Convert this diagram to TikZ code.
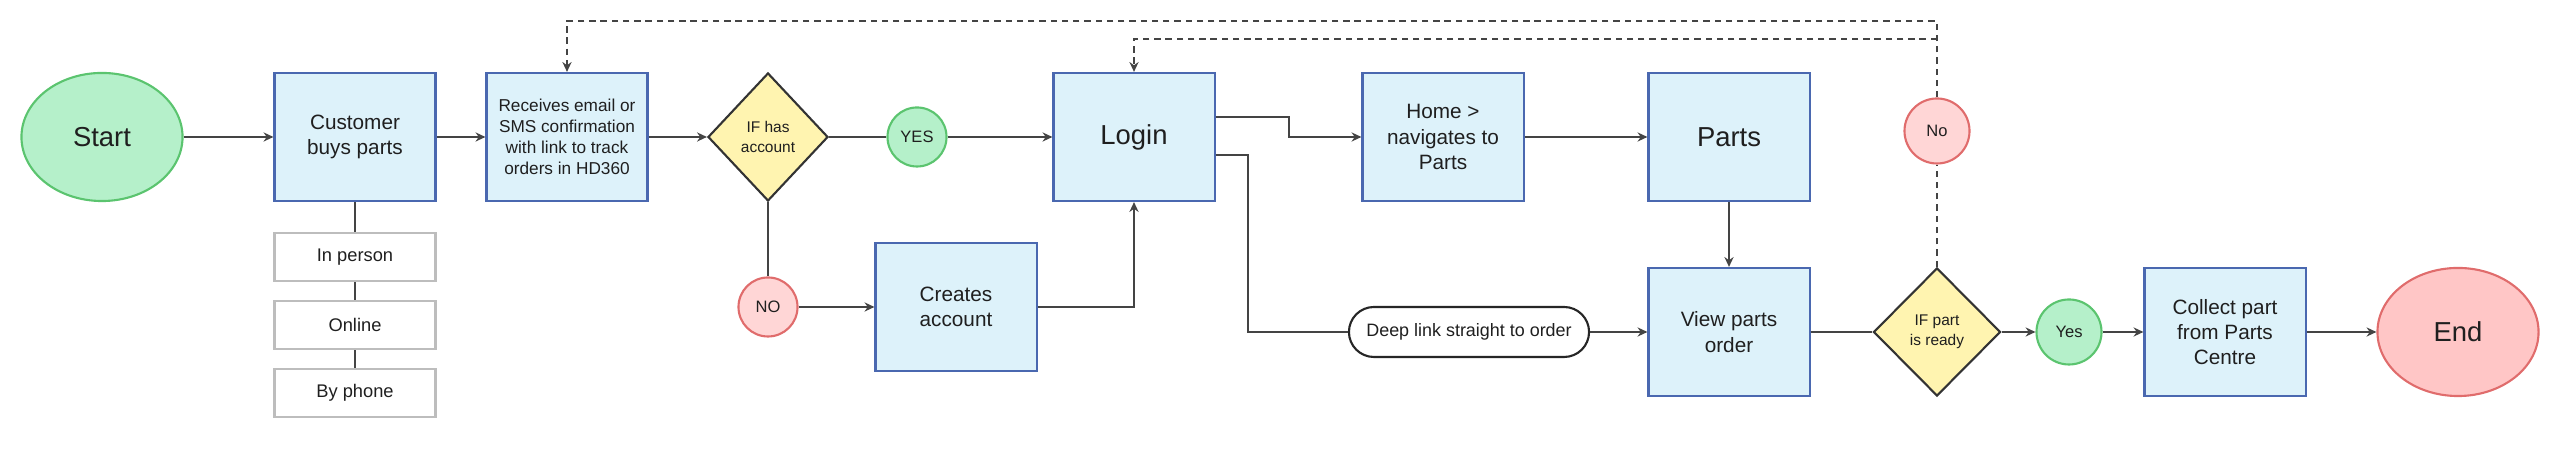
\documentclass[tikz,border=0pt]{standalone}
\usepackage{fontspec}
\setmainfont{Liberation Sans}
\usetikzlibrary{arrows.meta,shapes.geometric}
\definecolor{boxfill}{HTML}{DDF2FA}
\definecolor{boxline}{HTML}{4A68B0}
\definecolor{condfill}{HTML}{FFF4B0}
\definecolor{okfill}{HTML}{B5F0CA}
\definecolor{okline}{HTML}{5BC46F}
\definecolor{badfill}{HTML}{FFD6D6}
\definecolor{badline}{HTML}{E06C6C}
\definecolor{endfill}{HTML}{FFC6C6}
\definecolor{optline}{HTML}{BDBDBD}
\definecolor{wire}{HTML}{444444}
\tikzset{
	proc/.style = {rectangle, draw = boxline, fill = boxfill, minimum width = 1.61cm, minimum height = 1.28cm, inner sep = 0pt, align = center, font = \fontsize{5.9}{7.2}\selectfont},
	opt/.style = {rectangle, draw = optline, fill = white, minimum width = 1.61cm, minimum height = 0.48cm, inner sep = 0pt, font = \fontsize{5.2}{6}\selectfont},
	cond/.style = {diamond, draw = black!80, fill = condfill, minimum width = 1.2cm, minimum height = 1.28cm, inner sep = 0pt, align = center, font = \fontsize{4.4}{5.7}\selectfont},
	term/.style = {ellipse, minimum width = 1.61cm, minimum height = 1.28cm, inner sep = 0pt, font = \fontsize{7.8}{9}\selectfont},
	okc/.style = {circle, draw = okline, fill = okfill, minimum size = 0.59cm, inner sep = 0pt, font = \fontsize{4.7}{5.5}\selectfont},
	badc/.style = {circle, draw = badline, fill = badfill, minimum size = 0.59cm, inner sep = 0pt, font = \fontsize{4.7}{5.5}\selectfont},
	pill/.style = {rectangle, rounded corners = 0.25cm, draw = black!85, fill = white, minimum width = 2.4cm, minimum height = 0.5cm, inner sep = 0pt, font = \fontsize{5.1}{6}\selectfont}
}
\begin{document}
\begin{tikzpicture}[x = 0.01cm, y = -0.01cm, line width = 0.6pt, color = wire, every node/.append style = {text = black!88}, >={Stealth[length = 2.8pt, width = 2.6pt]}]
				\useasboundingbox (0,0) rectangle (2560,462);
				\node[term, draw = okline, fill = okfill] (start) at (102,137) {Start};
				\node[proc] (buy) at (355,137) {Customer \\ buys parts};
				\node[opt] (inperson) at (355,257) {In person};
				\node[opt] (online) at (355,325) {Online};
				\node[opt] (byphone) at (355,393) {By phone};
				\node[proc, font = \fontsize{4.9}{6}\selectfont] (recv) at (567,137) {Receives email or \\ SMS confirmation \\ with link to track \\ orders in HD360};
				\node[cond] (hasacc) at (768,137) {IF has \\ account};
				\node[okc] (yes) at (917,137) {YES};
				\node[badc] (no) at (768,307) {NO};
				\node[proc] (create) at (956,307) {Creates \\ account};
				\node[proc, font = \fontsize{7.8}{9}\selectfont] (login) at (1134,137) {Login};
				\node[proc] (home) at (1443,137) {Home > \\ navigates to \\ Parts};
				\node[proc, font = \fontsize{7.8}{9}\selectfont] (parts) at (1729,137) {Parts};
				\node[pill] (deep) at (1469,332) {Deep link straight to order};
				\node[proc] (view) at (1729,332) {View parts \\ order};
				\node[cond, minimum width = 1.27cm] (ready) at (1937,332) {IF part \\ is ready};
				\node[badc, minimum size = 0.65cm] (notready) at (1937,131) {No};
				\node[okc, minimum size = 0.65cm] (yes2) at (2069,332) {Yes};
				\node[proc] (collect) at (2225,332) {Collect part \\ from Parts \\ Centre};
				\node[term, draw = badline, fill = endfill] (end) at (2458,332) {End};
				\coordinate (top) at (1937,21);
				\coordinate (mid) at (1937,39);
				\draw[->] (start) -- (buy);
				\draw[->] (buy) -- (recv);
				\draw[->] (recv) -- (hasacc);
				\draw (hasacc) -- (yes);
				\draw[->] (yes) -- (login);
				\draw (hasacc) -- (no);
				\draw[->] (no) -- (create);
				\draw[->] (create) -| (login);
				\draw[->] ([yshift = 2mm]login.east) -- ++(73,0) |- (home);
				\draw ([yshift = -1.8mm]login.east) -- ++(32,0) |- (deep);
				\draw[->] (deep) -- (view);
				\draw[->] (home) -- (parts);
				\draw[->] (parts) -- (view);
				\draw (view) -- (ready);
				\draw[->] (ready) -- (yes2);
				\draw[->] (yes2) -- (collect);
				\draw[->] (collect) -- (end);
				\draw (buy) -- (inperson) -- (online) -- (byphone);
				\draw[dash pattern = on 1.8pt off 1.4pt] (ready) -- (notready);
				\draw[->, dash pattern = on 1.8pt off 1.4pt] (notready) -- (top) -| (recv);
				\draw[->, dash pattern = on 1.8pt off 1.4pt] (mid) -| (login);
			\end{tikzpicture}
\end{document}
